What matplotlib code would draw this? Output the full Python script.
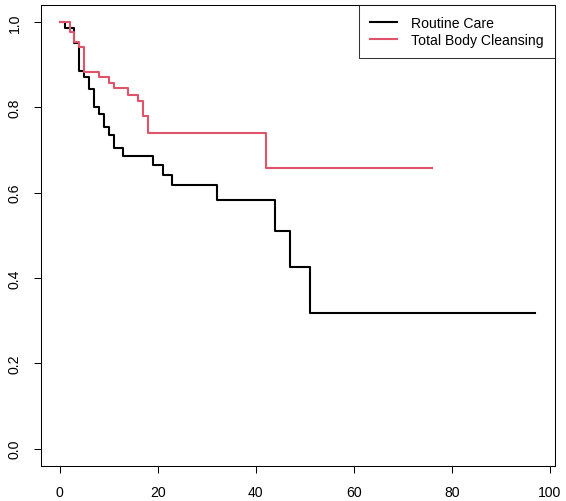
"""
Kaplan-Meier curves: Routine Care vs Total Body Cleansing (R base-graphics look).
Writes out.png (566x502).
"""
import matplotlib

matplotlib.use("Agg")
import matplotlib.pyplot as plt

plt.rcParams["font.family"] = ["Liberation Sans", "DejaVu Sans"]

# step curves (time, survival after the drop)
routine_t = [0, 1, 3, 4, 5, 6, 7, 8, 9, 10, 11, 13, 19, 21, 23, 32, 44, 47, 51, 97]
routine_s = [1.0, 0.987, 0.951, 0.886, 0.871, 0.843, 0.800, 0.785, 0.753, 0.735,
             0.704, 0.687, 0.665, 0.641, 0.618, 0.584, 0.511, 0.426, 0.319, 0.319]
tbc_t = [0, 2, 3, 4, 5, 8, 10, 11, 14, 16, 17, 18, 42, 76]
tbc_s = [1.0, 0.976, 0.953, 0.941, 0.883, 0.871, 0.858, 0.845, 0.829, 0.814,
         0.779, 0.740, 0.658, 0.658]

labels = ["Routine Care", "Total Body Cleansing"]
colors = ["black", "#DF536B"]
xticks = [0, 20, 40, 60, 80, 100]
yticks = [0.0, 0.2, 0.4, 0.6, 0.8, 1.0]

FS = 14 * 72 / 100  # ~14 px text at dpi 100

fig = plt.figure(figsize=(5.66, 5.02), dpi=100)
ax = fig.add_axes([40.7 / 566, 1 - 466.7 / 502, (555 - 40.7) / 566, (466.7 - 6) / 502])

for t, s, lab, c in zip([routine_t, tbc_t], [routine_s, tbc_s], labels, colors):
    ax.step(t, s, where="post", color=c, lw=1.5, label=lab)

# R default 4% axis extension
ax.set_xlim(-0.04 * 97, 97 + 0.04 * 101)
ax.set_ylim(-0.04, 1.04)
ax.set_xticks(xticks)
ax.set_xticklabels([str(v) for v in xticks])
ax.set_yticks(yticks)
ax.set_yticklabels([f"{v:.1f}" for v in yticks], rotation=90, va="center")
ax.tick_params(length=5.2, width=0.75, labelsize=FS, pad=8.5)
ax.tick_params(axis="x", pad=9)
for sp in ax.spines.values():
    sp.set_linewidth(0.75)

leg = ax.legend(loc="upper right", borderaxespad=0, fancybox=False, fontsize=FS,
                handlelength=1.95, handletextpad=1.0, borderpad=0.8,
                labelspacing=0.2)
leg.get_frame().set_edgecolor("black")
leg.get_frame().set_linewidth(0.75)

fig.savefig("out.png", dpi=100)
